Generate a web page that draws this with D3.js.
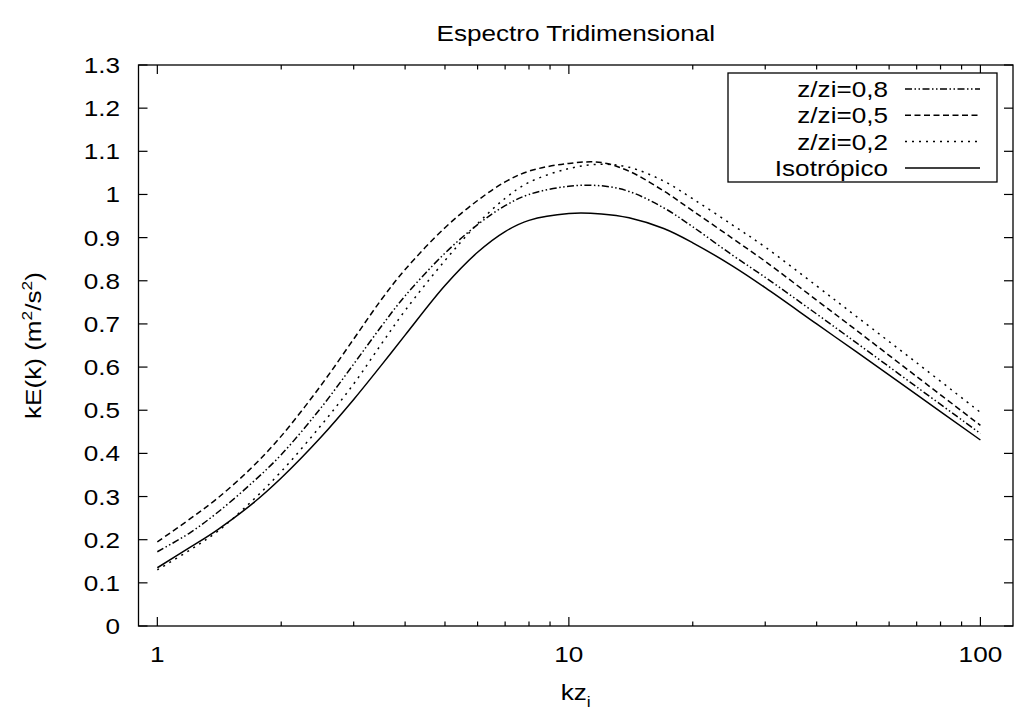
<!DOCTYPE html>
<head>
<meta charset="utf-8">
<style>
body { margin: 0; background: #fff; }
svg { display: block; }
text { font-family: "Liberation Sans", Arial, sans-serif; font-size: 22.5px; fill: #000; }
.frame { fill: none; stroke: #000; stroke-width: 1.3px; }
.tick { stroke: #000; stroke-width: 1.2px; }
.curve { fill: none; stroke: #000; stroke-width: 1.5px; }
</style>
</head>
<body>
<svg width="1014" height="709"></svg>
<script src="https://d3js.org/d3.v7.min.js"></script>
<script>
// values
var kz   = [1, 1.2, 1.4, 1.7, 2, 2.5, 3, 3.5, 4, 5, 6, 7, 8, 10, 12, 14, 17, 20, 25, 30, 40, 50, 70, 100];
var iso  = [0.135, 0.182, 0.223, 0.283, 0.343, 0.438, 0.525, 0.604, 0.674, 0.789, 0.866, 0.914, 0.940, 0.956, 0.955, 0.946, 0.921, 0.888, 0.834, 0.784, 0.700, 0.635, 0.536, 0.431];
var z02  = [0.130, 0.176, 0.219, 0.290, 0.358, 0.465, 0.561, 0.653, 0.731, 0.847, 0.932, 0.991, 1.028, 1.060, 1.070, 1.063, 1.031, 0.990, 0.929, 0.878, 0.788, 0.717, 0.610, 0.495];
var z05  = [0.195, 0.248, 0.296, 0.368, 0.440, 0.558, 0.665, 0.756, 0.826, 0.923, 0.986, 1.029, 1.054, 1.072, 1.074, 1.054, 1.008, 0.962, 0.898, 0.845, 0.755, 0.685, 0.578, 0.465];
var z08  = [0.172, 0.216, 0.263, 0.332, 0.397, 0.506, 0.607, 0.694, 0.765, 0.864, 0.930, 0.974, 1.000, 1.019, 1.020, 1.007, 0.969, 0.925, 0.859, 0.808, 0.723, 0.656, 0.554, 0.446];

var seriesNames = ["z/zi=0,8", "z/zi=0,5", "z/zi=0,2", "Isotrópico"];
var seriesDash  = ["7,2.5,1.5,2.5,1.5,2.5", "6,3.5", "2,5", null];
var seriesData  = [z08, z05, z02, iso];

var yTicks = [0, 0.1, 0.2, 0.3, 0.4, 0.5, 0.6, 0.7, 0.8, 0.9, 1, 1.1, 1.2, 1.3];
var xMajor = [1, 10, 100];
var xMinor = [2, 3, 4, 5, 6, 7, 8, 9, 20, 30, 40, 50, 60, 70, 80, 90];

(function(){
  var svg = d3.select("svg");
  var pLeft = 138.5, pRight = 1013, pTop = 65, pBottom = 626;
  var stretch = 1.16;

  var x = d3.scaleLog().domain([0.9, 120]).range([pLeft, pRight]);
  var y = d3.scaleLinear().domain([0, 1.3]).range([pBottom, pTop]);

  // ticks on all four sides
  var g = svg.append("g");
  yTicks.forEach(function(v){
    g.append("line").attr("class", "tick").attr("x1", pLeft).attr("x2", pLeft + 9).attr("y1", y(v)).attr("y2", y(v));
    g.append("line").attr("class", "tick").attr("x1", pRight).attr("x2", pRight - 9).attr("y1", y(v)).attr("y2", y(v));
    g.append("text").attr("x", 120).attr("y", y(v) + 8).attr("text-anchor", "end")
      .text(d3.format("")(v));
  });
  xMajor.forEach(function(v){
    g.append("line").attr("class", "tick").attr("x1", x(v)).attr("x2", x(v)).attr("y1", pBottom).attr("y2", pBottom - 9);
    g.append("line").attr("class", "tick").attr("x1", x(v)).attr("x2", x(v)).attr("y1", pTop).attr("y2", pTop + 9);
    g.append("text").attr("x", x(v)).attr("y", 662).attr("text-anchor", "middle").text(v);
  });
  xMinor.forEach(function(v){
    g.append("line").attr("class", "tick").attr("x1", x(v)).attr("x2", x(v)).attr("y1", pBottom).attr("y2", pBottom - 4.5);
    g.append("line").attr("class", "tick").attr("x1", x(v)).attr("x2", x(v)).attr("y1", pTop).attr("y2", pTop + 4.5);
  });

  svg.append("rect").attr("class", "frame")
    .attr("x", pLeft).attr("y", pTop).attr("width", pRight - pLeft).attr("height", pBottom - pTop);

  // curves
  var line = d3.line()
    .x(function(d){ return x(d[0]); })
    .y(function(d){ return y(d[1]); })
    .curve(d3.curveCatmullRom.alpha(0.5));

  seriesData.forEach(function(s, i){
    svg.append("path").attr("class", "curve")
      .attr("d", line(kz.map(function(k, j){ return [k, s[j]]; })))
      .attr("stroke-dasharray", seriesDash[i]);
  });

  // legend
  var legend = svg.append("g");
  legend.append("rect").attr("class", "frame")
    .attr("x", 728).attr("y", 73).attr("width", 269).attr("height", 109)
    .style("fill", "#fff");
  seriesNames.forEach(function(name, i){
    var yy = 89 + i * 26.3;
    legend.append("text").attr("x", 888).attr("y", yy + 8).attr("text-anchor", "end").text(name);
    legend.append("line").attr("class", "curve")
      .attr("x1", 905).attr("x2", 980).attr("y1", yy).attr("y2", yy)
      .attr("stroke-dasharray", seriesDash[i]);
  });

  // titles
  svg.append("text").attr("x", (pLeft + pRight) / 2).attr("y", 41).attr("text-anchor", "middle")
    .text("Espectro Tridimensional");

  var xl = svg.append("text").attr("x", (pLeft + pRight) / 2).attr("y", 700).attr("text-anchor", "middle");
  xl.append("tspan").text("kz");
  xl.append("tspan").attr("dy", 7).style("font-size", "15px").text("i");

  var yl = svg.append("text").attr("transform", "translate(41," + ((pTop + pBottom) / 2) + ") rotate(-90)")
    .attr("text-anchor", "middle");
  yl.append("tspan").text("kE(k) (m");
  yl.append("tspan").attr("dy", -9).style("font-size", "15px").text("2");
  yl.append("tspan").attr("dy", 9).text("/s");
  yl.append("tspan").attr("dy", -9).style("font-size", "15px").text("2");
  yl.append("tspan").attr("dy", 9).text(")");

  // the reference lettering is a little wider than the font
  svg.selectAll("text").each(function(){
    var w = this.getComputedTextLength();
    d3.select(this).attr("textLength", w * stretch).attr("lengthAdjust", "spacingAndGlyphs");
  });
})();
</script>
</body>
</html>
